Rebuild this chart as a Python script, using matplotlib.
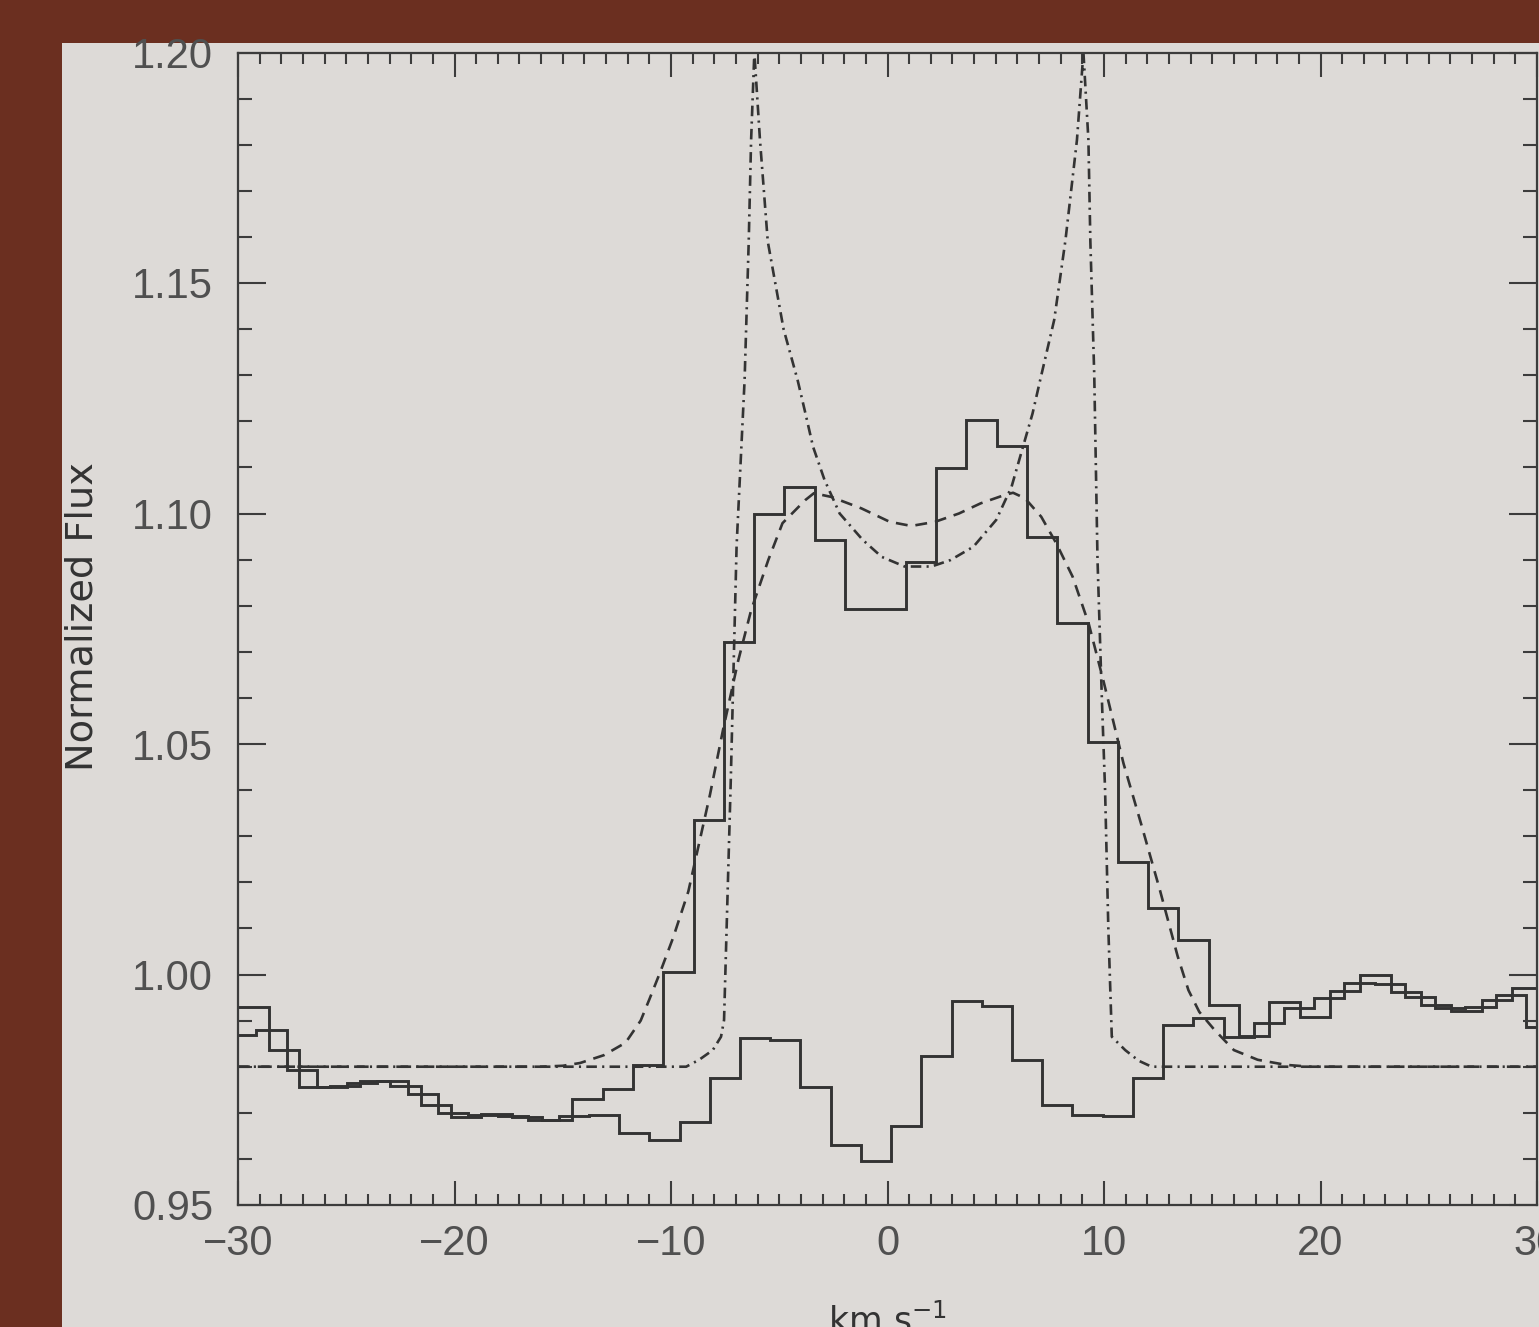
import numpy as np
import matplotlib.pyplot as plt
from matplotlib.patches import Rectangle
from matplotlib.ticker import MultipleLocator, FormatStrFormatter

# observed spectra: histogram bins in km/s, first bin starts at the plot edge (-30)
a_start, a_width = -28.56, 1.40
b_start, b_width = -29.15, 1.396

flux_a = [0.9930, 0.9836, 0.9757, 0.9759, 0.9768, 0.9758, 0.9717, 0.9690, 0.9697,
          0.9690, 0.9685, 0.9730, 0.9751, 0.9803, 1.0006, 1.0335, 1.0722, 1.1000,
          1.1058, 1.0943, 1.0792, 1.0792, 1.0895, 1.1098, 1.1203, 1.1146, 1.0950,
          1.0763, 1.0504, 1.0243, 1.0145, 1.0075, 0.9934, 0.9867, 0.9941, 0.9908,
          0.9965, 0.9999, 0.9963, 0.9934, 0.9920, 0.9944, 0.9970]

flux_b = [0.9869, 0.9880, 0.9793, 0.9757, 0.9764, 0.9770, 0.9740, 0.9700, 0.9695,
          0.9694, 0.9684, 0.9694, 0.9695, 0.9657, 0.9641, 0.9681, 0.9776, 0.9862,
          0.9857, 0.9757, 0.9630, 0.9596, 0.9671, 0.9823, 0.9943, 0.9932, 0.9815,
          0.9717, 0.9695, 0.9694, 0.9775, 0.9891, 0.9906, 0.9865, 0.9894, 0.9928,
          0.9948, 0.9981, 0.9980, 0.9952, 0.9927, 0.9930, 0.9956, 0.9887]

# model profiles
dash_v = [-30, -16.0, -15.0, -14.2, -13.1, -12.1, -11.4, -11.0, -10.5, -9.9, -9.2,
          -8.2, -7.6, -6.9, -6.3, -5.5, -4.85, -3.8, -3.4, -2.6, -1.2, 0.1, 1.1,
          2.2, 3.3, 4.3, 5.4, 5.8, 6.35, 7.1, 7.8, 8.55, 9.3, 10.0, 10.9, 11.75,
          12.6, 13.4, 13.9, 14.4, 15.1, 16.0, 17.1, 18.4, 19.5, 30]
dash_f = [0.9800, 0.9800, 0.9802, 0.9808, 0.9825, 0.9852, 0.9900, 0.9946, 1.0005,
          1.0080, 1.0180, 1.0390, 1.0530, 1.0680, 1.0790, 1.0900, 1.0979, 1.1029,
          1.1044, 1.1036, 1.1011, 1.0982, 1.0973, 1.0982, 1.1000, 1.1022, 1.1040,
          1.1045, 1.1033, 1.0993, 1.0935, 1.0863, 1.0760, 1.0632, 1.0458, 1.0321,
          1.0180, 1.0040, 0.9966, 0.9919, 0.9880, 0.9836, 0.9815, 0.9804, 0.9800,
          0.9800]

dashdot_v = [-30, -9.3, -8.7, -8.07, -7.69, -7.55, -7.24, -6.97, -6.6, -6.41, -6.3,
             -6.15, -5.89, -5.53, -4.8, -4.15, -3.79, -3.44, -2.91, -2.21, -1.15,
             -0.27, 0.79, 2.03, 2.91, 3.97, 5.02, 5.73, 6.26, 6.70, 7.05, 7.7, 8.22,
             8.75, 9.05, 9.28, 9.37, 9.55, 9.7, 9.9, 10.05, 10.2, 10.36, 10.98, 11.6,
             12.2, 30]
dashdot_f = [0.980, 0.980, 0.9815, 0.9836, 0.9865, 0.9901, 1.042, 1.093, 1.129,
             1.159, 1.181, 1.200, 1.181, 1.159, 1.140, 1.1289, 1.1217, 1.1145,
             1.1073, 1.1000, 1.0943, 1.0906, 1.0885, 1.0885, 1.0899, 1.0928, 1.0986,
             1.1058, 1.1145, 1.1217, 1.1289, 1.142, 1.1593, 1.181, 1.200, 1.181,
             1.159, 1.130, 1.090, 1.060, 1.040, 1.010, 0.9865, 0.9836, 0.9813,
             0.980, 0.980]

edges_a = np.r_[-30, a_start + a_width * np.arange(len(flux_a))]
edges_b = np.r_[-30, b_start + b_width * np.arange(len(flux_b))]

plt.rcParams['font.family'] = ['Liberation Sans', 'DejaVu Sans']
ink = '#333333'
panel = '#dddad7'

fig = plt.figure(figsize=(15.39, 13.27), dpi=100, facecolor='#6b2f20')
fig.patches.append(Rectangle((62 / 1539, 0), 1, 1 - 43 / 1327, transform=fig.transFigure,
                             facecolor=panel, edgecolor='none', zorder=-10))

ax = fig.add_axes([238 / 1539, 122 / 1327, 1299 / 1539, 1152.5 / 1327])
ax.set_zorder(1)
ax.set_facecolor(panel)

ax.stairs(flux_a, edges_a, baseline=None, color=ink, lw=2.1)
ax.stairs(flux_b, edges_b, baseline=None, color=ink, lw=2.1)
ax.plot(dash_v, dash_f, color=ink, lw=1.9, linestyle=(0, (4.5, 3)))
ax.plot(dashdot_v, dashdot_f, color=ink, lw=1.9, linestyle=(0, (4, 2, 0.8, 2)))

ax.set_xlim(-30, 30)
ax.set_ylim(0.95, 1.20)
ax.set_xticks([-30, -20, -10, 0, 10, 20, 30])
ax.set_yticks([0.95, 1.00, 1.05, 1.10, 1.15, 1.20])
ax.xaxis.set_minor_locator(MultipleLocator(1))
ax.yaxis.set_minor_locator(MultipleLocator(0.01))
ax.yaxis.set_major_formatter(FormatStrFormatter('%.2f'))

for s in ax.spines.values():
    s.set_color('#3c3c3c')
    s.set_linewidth(1.6)

ax.tick_params(which='both', direction='in', top=True, right=True, color='#3c3c3c',
               width=1.5, labelcolor='#505050', labelsize=30)
ax.tick_params(axis='x', which='major', length=17, pad=14)
ax.tick_params(axis='x', which='minor', length=8)
ax.tick_params(axis='y', which='major', length=20, pad=18)
ax.tick_params(axis='y', which='minor', length=10)

ax.set_ylabel('Normalized Flux', fontsize=27.5, family='DejaVu Sans', color=ink)
ax.yaxis.set_label_coords(-0.106, 0.511)
ax.set_xlabel('km s$^{\\mathregular{-1}}$', fontsize=25, family='DejaVu Sans', color=ink)
ax.xaxis.set_label_coords(0.5, -0.085)

plt.savefig('out.png', dpi=100, facecolor=fig.get_facecolor())
